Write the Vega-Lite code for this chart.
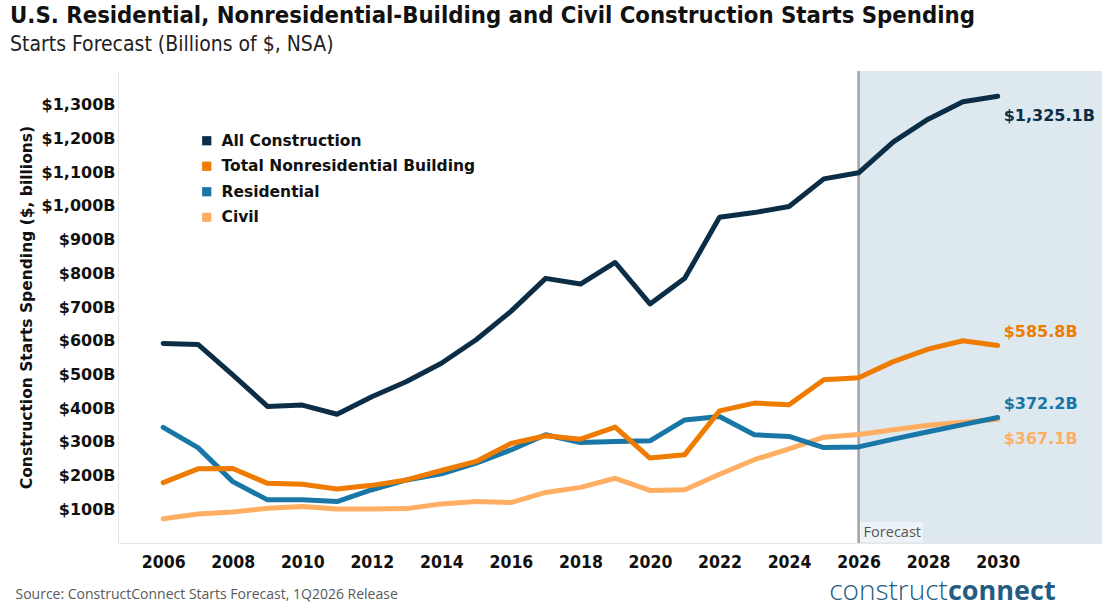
{
  "$schema": "https://vega.github.io/schema/vega-lite/v6.json",
  "width": 984,
  "height": 472,
  "autosize": {"type": "none"},
  "padding": {"left": 118, "top": 71, "right": 6, "bottom": 70},
  "background": "white",
  "config": {"view": {"stroke": null}},
  "title": {
    "text": "U.S. Residential, Nonresidential-Building and Civil Construction Starts Spending",
    "subtitle": "Starts Forecast (Billions of $, NSA)",
    "anchor": "start",
    "frame": "group",
    "dx": -108,
    "offset": 8,
    "font": "DejaVu Sans Condensed, sans-serif",
    "fontSize": 23.7,
    "fontWeight": "bold",
    "color": "#111111",
    "subtitleFont": "DejaVu Sans Condensed, sans-serif",
    "subtitleFontSize": 21,
    "subtitleColor": "#222222",
    "subtitlePadding": 6
  },
  "data": {
    "values": [
      {"year": 2006, "series": "Civil", "value": 72},
      {"year": 2007, "series": "Civil", "value": 86},
      {"year": 2008, "series": "Civil", "value": 92},
      {"year": 2009, "series": "Civil", "value": 103},
      {"year": 2010, "series": "Civil", "value": 108},
      {"year": 2011, "series": "Civil", "value": 101},
      {"year": 2012, "series": "Civil", "value": 101},
      {"year": 2013, "series": "Civil", "value": 102},
      {"year": 2014, "series": "Civil", "value": 116},
      {"year": 2015, "series": "Civil", "value": 123},
      {"year": 2016, "series": "Civil", "value": 120},
      {"year": 2017, "series": "Civil", "value": 150},
      {"year": 2018, "series": "Civil", "value": 165},
      {"year": 2019, "series": "Civil", "value": 192},
      {"year": 2020, "series": "Civil", "value": 156},
      {"year": 2021, "series": "Civil", "value": 158},
      {"year": 2022, "series": "Civil", "value": 204},
      {"year": 2023, "series": "Civil", "value": 247},
      {"year": 2024, "series": "Civil", "value": 279},
      {"year": 2025, "series": "Civil", "value": 314},
      {"year": 2026, "series": "Civil", "value": 322},
      {"year": 2027, "series": "Civil", "value": 336},
      {"year": 2028, "series": "Civil", "value": 349},
      {"year": 2029, "series": "Civil", "value": 358},
      {"year": 2030, "series": "Civil", "value": 367.1},
      {"year": 2006, "series": "Residential", "value": 343},
      {"year": 2007, "series": "Residential", "value": 283},
      {"year": 2008, "series": "Residential", "value": 182},
      {"year": 2009, "series": "Residential", "value": 128},
      {"year": 2010, "series": "Residential", "value": 128},
      {"year": 2011, "series": "Residential", "value": 123},
      {"year": 2012, "series": "Residential", "value": 158},
      {"year": 2013, "series": "Residential", "value": 187},
      {"year": 2014, "series": "Residential", "value": 205},
      {"year": 2015, "series": "Residential", "value": 237},
      {"year": 2016, "series": "Residential", "value": 276},
      {"year": 2017, "series": "Residential", "value": 321},
      {"year": 2018, "series": "Residential", "value": 298},
      {"year": 2019, "series": "Residential", "value": 301},
      {"year": 2020, "series": "Residential", "value": 303},
      {"year": 2021, "series": "Residential", "value": 365},
      {"year": 2022, "series": "Residential", "value": 375},
      {"year": 2023, "series": "Residential", "value": 321},
      {"year": 2024, "series": "Residential", "value": 316},
      {"year": 2025, "series": "Residential", "value": 283},
      {"year": 2026, "series": "Residential", "value": 285},
      {"year": 2027, "series": "Residential", "value": 308},
      {"year": 2028, "series": "Residential", "value": 330},
      {"year": 2029, "series": "Residential", "value": 351},
      {"year": 2030, "series": "Residential", "value": 372.2},
      {"year": 2006, "series": "Total Nonresidential Building", "value": 179},
      {"year": 2007, "series": "Total Nonresidential Building", "value": 220},
      {"year": 2008, "series": "Total Nonresidential Building", "value": 221},
      {"year": 2009, "series": "Total Nonresidential Building", "value": 177},
      {"year": 2010, "series": "Total Nonresidential Building", "value": 174},
      {"year": 2011, "series": "Total Nonresidential Building", "value": 160},
      {"year": 2012, "series": "Total Nonresidential Building", "value": 171},
      {"year": 2013, "series": "Total Nonresidential Building", "value": 187},
      {"year": 2014, "series": "Total Nonresidential Building", "value": 215},
      {"year": 2015, "series": "Total Nonresidential Building", "value": 242},
      {"year": 2016, "series": "Total Nonresidential Building", "value": 295},
      {"year": 2017, "series": "Total Nonresidential Building", "value": 318},
      {"year": 2018, "series": "Total Nonresidential Building", "value": 308},
      {"year": 2019, "series": "Total Nonresidential Building", "value": 344},
      {"year": 2020, "series": "Total Nonresidential Building", "value": 252},
      {"year": 2021, "series": "Total Nonresidential Building", "value": 262},
      {"year": 2022, "series": "Total Nonresidential Building", "value": 392},
      {"year": 2023, "series": "Total Nonresidential Building", "value": 415},
      {"year": 2024, "series": "Total Nonresidential Building", "value": 410},
      {"year": 2025, "series": "Total Nonresidential Building", "value": 484},
      {"year": 2026, "series": "Total Nonresidential Building", "value": 490},
      {"year": 2027, "series": "Total Nonresidential Building", "value": 538},
      {"year": 2028, "series": "Total Nonresidential Building", "value": 575},
      {"year": 2029, "series": "Total Nonresidential Building", "value": 600},
      {"year": 2030, "series": "Total Nonresidential Building", "value": 585.8},
      {"year": 2006, "series": "All Construction", "value": 592},
      {"year": 2007, "series": "All Construction", "value": 589},
      {"year": 2008, "series": "All Construction", "value": 499},
      {"year": 2009, "series": "All Construction", "value": 405},
      {"year": 2010, "series": "All Construction", "value": 409},
      {"year": 2011, "series": "All Construction", "value": 382},
      {"year": 2012, "series": "All Construction", "value": 434},
      {"year": 2013, "series": "All Construction", "value": 479},
      {"year": 2014, "series": "All Construction", "value": 533},
      {"year": 2015, "series": "All Construction", "value": 603},
      {"year": 2016, "series": "All Construction", "value": 687},
      {"year": 2017, "series": "All Construction", "value": 785},
      {"year": 2018, "series": "All Construction", "value": 768},
      {"year": 2019, "series": "All Construction", "value": 832},
      {"year": 2020, "series": "All Construction", "value": 709},
      {"year": 2021, "series": "All Construction", "value": 785},
      {"year": 2022, "series": "All Construction", "value": 966},
      {"year": 2023, "series": "All Construction", "value": 980},
      {"year": 2024, "series": "All Construction", "value": 998},
      {"year": 2025, "series": "All Construction", "value": 1080},
      {"year": 2026, "series": "All Construction", "value": 1098},
      {"year": 2027, "series": "All Construction", "value": 1190},
      {"year": 2028, "series": "All Construction", "value": 1257},
      {"year": 2029, "series": "All Construction", "value": 1309},
      {"year": 2030, "series": "All Construction", "value": 1325.1}
    ]
  },
  "layer": [
    {
      "data": {"values": [{}]},
      "mark": {"type": "rect", "color": "#dde9ef"},
      "encoding": {
        "x": {"datum": 2026, "type": "quantitative"},
        "x2": {"datum": 2033}
      }
    },
    {
      "data": {"values": [{}]},
      "mark": {"type": "rect", "color": "#edf3f6"},
      "encoding": {
        "x": {"datum": 2026, "type": "quantitative"},
        "x2": {"datum": 2027.85},
        "y": {"datum": 2, "type": "quantitative"},
        "y2": {"datum": 62}
      }
    },
    {
      "data": {"values": [{}]},
      "mark": {"type": "rule", "color": "#a3a3a3", "strokeWidth": 2.5},
      "encoding": {"x": {"datum": 2026, "type": "quantitative"}}
    },
    {
      "data": {"values": [{"tag": "Forecast"}]},
      "mark": {"type": "text", "align": "left", "baseline": "middle", "dx": 5, "font": "Open Sans", "fontSize": 14.5, "color": "#555555"},
      "encoding": {
        "x": {"datum": 2026, "type": "quantitative"},
        "y": {"datum": 31, "type": "quantitative"},
        "text": {"field": "tag"}
      }
    },
    {
      "mark": {"type": "line", "strokeWidth": 5, "strokeCap": "round", "strokeJoin": "round"},
      "encoding": {
        "x": {
          "field": "year",
          "type": "quantitative",
          "scale": {"domain": [2004.7, 2033], "nice": false, "zero": false},
          "axis": {
            "values": [2006, 2008, 2010, 2012, 2014, 2016, 2018, 2020, 2022, 2024, 2026, 2028, 2030],
            "tickCount": 30,
            "format": "d",
            "grid": false,
            "ticks": false,
            "domainColor": "#e6e6e6",
            "labelFont": "DejaVu Sans Condensed, sans-serif",
            "labelFontSize": 17.5,
            "labelFontWeight": "bold",
            "labelColor": "#111111",
            "labelPadding": 10,
            "labelFlush": false,
            "labelOverlap": false,
            "title": "Source: ConstructConnect Starts Forecast, 1Q2026 Release",
            "titleX": -103,
            "titleY": 51,
            "titleAlign": "left",
            "titleBaseline": "middle",
            "titleFont": "Open Sans",
            "titleFontSize": 14,
            "titleFontWeight": "normal",
            "titleColor": "#595959"
          }
        },
        "y": {
          "field": "value",
          "type": "quantitative",
          "scale": {"domain": [0, 1400], "nice": false},
          "axis": {
            "values": [100, 200, 300, 400, 500, 600, 700, 800, 900, 1000, 1100, 1200, 1300, 1400],
            "tickCount": 30,
            "labelExpr": "datum.value >= 1400 ? '' : '$' + format(datum.value, ',') + 'B'",
            "labelOverlap": false,
            "ticks": false,
            "gridColor": "#ededed",
            "domainColor": "#e6e6e6",
            "labelFont": "DejaVu Sans",
            "labelFontSize": 16,
            "labelFontWeight": "bold",
            "labelColor": "#111111",
            "labelPadding": 3,
            "title": "Construction Starts Spending ($, billions)",
            "titleX": -92,
            "titleY": 236,
            "titleAngle": -90,
            "titleAlign": "center",
            "titleBaseline": "middle",
            "titleFont": "DejaVu Sans",
            "titleFontSize": 15.5,
            "titleFontWeight": "bold",
            "titleColor": "#111111"
          }
        },
        "color": {
          "field": "series",
          "type": "nominal",
          "scale": {
            "domain": ["All Construction", "Total Nonresidential Building", "Residential", "Civil"],
            "range": ["#0b2e46", "#ef7b00", "#1877a6", "#ffae62"]
          },
          "legend": {
            "title": null,
            "orient": "none",
            "legendX": 81,
            "legendY": 62,
            "symbolType": "square",
            "symbolSize": 85,
            "symbolStrokeWidth": 0,
            "labelFont": "DejaVu Sans",
            "labelFontSize": 15.5,
            "labelFontWeight": "bold",
            "labelColor": "#111111",
            "labelOffset": 7,
            "labelLimit": 400,
            "rowPadding": 8.5,
            "encode": {
              "symbols": {
                "update": {
                  "fill": {"scale": "color", "field": "value"},
                  "strokeWidth": {"value": 0}
                }
              }
            }
          }
        }
      }
    },
    {
      "transform": [
        {"filter": "datum.year == 2030 && (datum.series == 'Total Nonresidential Building' || datum.series == 'Residential')"},
        {"calculate": "'$' + format(datum.value, ',.1f') + 'B'", "as": "label"}
      ],
      "mark": {"type": "text", "align": "left", "baseline": "middle", "dx": 6, "dy": -14, "font": "DejaVu Sans", "fontSize": 16, "fontWeight": "bold"},
      "encoding": {
        "x": {"field": "year", "type": "quantitative"},
        "y": {"field": "value", "type": "quantitative"},
        "text": {"field": "label"},
        "color": {"field": "series", "type": "nominal"}
      }
    },
    {
      "transform": [
        {"filter": "datum.year == 2030 && (datum.series == 'All Construction' || datum.series == 'Civil')"},
        {"calculate": "'$' + format(datum.value, ',.1f') + 'B'", "as": "label"}
      ],
      "mark": {"type": "text", "align": "left", "baseline": "middle", "dx": 6, "dy": 20, "font": "DejaVu Sans", "fontSize": 16, "fontWeight": "bold"},
      "encoding": {
        "x": {"field": "year", "type": "quantitative"},
        "y": {"field": "value", "type": "quantitative"},
        "text": {"field": "label"},
        "color": {"field": "series", "type": "nominal"}
      }
    },
    {
      "data": {"values": [{"word": "construct"}]},
      "mark": {"type": "text", "align": "right", "baseline": "alphabetic", "font": "Open Sans", "fontSize": 28, "fontWeight": 300, "color": "#235c82"},
      "encoding": {
        "x": {"datum": 2028.57, "type": "quantitative"},
        "y": {"datum": -168, "type": "quantitative"},
        "text": {"field": "word"}
      }
    },
    {
      "data": {"values": [{"word": "connect"}]},
      "mark": {"type": "text", "align": "left", "baseline": "alphabetic", "font": "Open Sans", "fontSize": 27, "fontWeight": "bold", "color": "#235c82"},
      "encoding": {
        "x": {"datum": 2028.57, "type": "quantitative"},
        "y": {"datum": -168, "type": "quantitative"},
        "text": {"field": "word"}
      }
    }
  ]
}
